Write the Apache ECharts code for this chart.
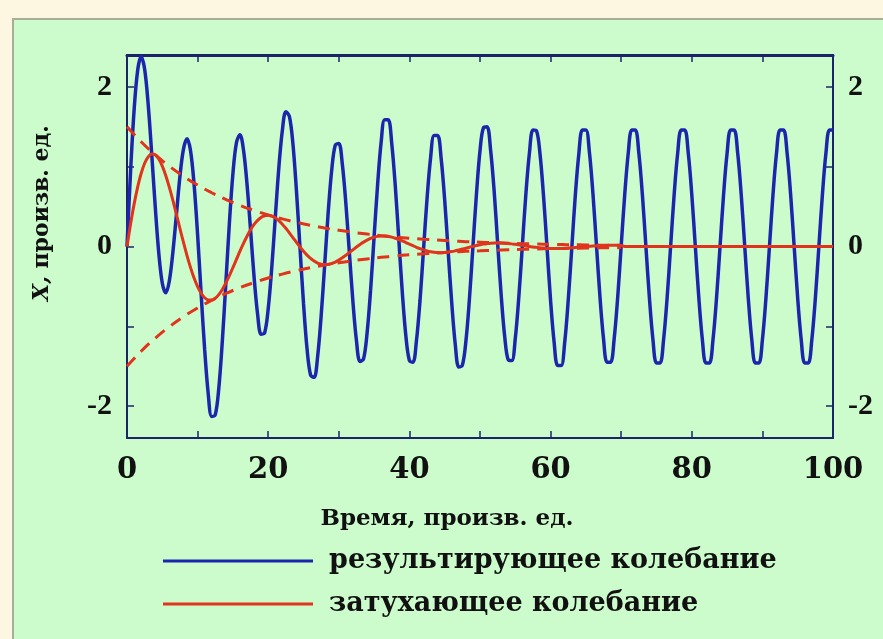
<!DOCTYPE html>
<html>
<head>
<meta charset="utf-8">
<script src="https://cdn.jsdelivr.net/npm/echarts@6.0.0/dist/echarts.min.js"></script>
<style>
  html, body { margin: 0; padding: 0; background: #fdf6e1; }
  #chart { width: 883px; height: 639px; }
</style>
</head>
<body>
<div id="chart"></div>
<script>
// ---------- DATA ----------
const time = [
  0,0.5,1,1.5,2,2.5,3,3.5,4,4.5,5,5.5,6,6.5,7,7.5,8,8.5,9,9.5,
  10,10.5,11,11.5,12,12.5,13,13.5,14,14.5,15,15.5,16,16.5,17,17.5,18,18.5,19,19.5,
  20,20.5,21,21.5,22,22.5,23,23.5,24,24.5,25,25.5,26,26.5,27,27.5,28,28.5,29,29.5,
  30,30.5,31,31.5,32,32.5,33,33.5,34,34.5,35,35.5,36,36.5,37,37.5,38,38.5,39,39.5,
  40,40.5,41,41.5,42,42.5,43,43.5,44,44.5,45,45.5,46,46.5,47,47.5,48,48.5,49,49.5,
  50,50.5,51,51.5,52,52.5,53,53.5,54,54.5,55,55.5,56,56.5,57,57.5,58,58.5,59,59.5,
  60,60.5,61,61.5,62,62.5,63,63.5,64,64.5,65,65.5,66,66.5,67,67.5,68,68.5,69,69.5,
  70,70.5,71,71.5,72,72.5,73,73.5,74,74.5,75,75.5,76,76.5,77,77.5,78,78.5,79,79.5,
  80,80.5,81,81.5,82,82.5,83,83.5,84,84.5,85,85.5,86,86.5,87,87.5,88,88.5,89,89.5,
  90,90.5,91,91.5,92,92.5,93,93.5,94,94.5,95,95.5,96,96.5,97,97.5,98,98.5,99,99.5,
  100
];

// resulting oscillation (blue)
const resulting = [
  0, 0.93, 1.70, 2.20, 2.38, 2.22, 1.78, 1.16, 0.50, -0.08, -0.46, -0.58, -0.43, -0.07,
  0.40, 0.88, 1.22, 1.35, 1.20, 0.78, 0.15, -0.59, -1.29, -1.84, -2.13, -2.11, -1.78, -1.19,
  -0.46, 0.29, 0.91, 1.30, 1.40, 1.21, 0.78, 0.21, -0.38, -0.85, -1.10, -1.08, -0.78, -0.27,
  0.36, 0.98, 1.45, 1.69, 1.63, 1.29, 0.70, -0.01, -0.71, -1.28, -1.61, -1.64, -1.38, -0.87,
  -0.23, 0.43, 0.96, 1.27, 1.29, 1.03, 0.54, -0.08, -0.69, -1.18, -1.44, -1.41, -1.09, -0.55,
  0.12, 0.78, 1.31, 1.59, 1.59, 1.29, 0.76, 0.09, -0.58, -1.12, -1.43, -1.45, -1.18, -0.68,
  -0.04, 0.60, 1.11, 1.39, 1.39, 1.10, 0.58, -0.07, -0.71, -1.23, -1.51, -1.49, -1.19, -0.66,
  0.00, 0.66, 1.20, 1.49, 1.50, 1.21, 0.70, 0.04, -0.61, -1.13, -1.42, -1.43, -1.15, -0.63,
  0.01, 0.66, 1.17, 1.46, 1.45, 1.16, 0.63, -0.02, -0.68, -1.20, -1.49, -1.49, -1.20, -0.67,
  -0.02, 0.64, 1.16, 1.46, 1.46, 1.18, 0.66, 0.01, -0.64, -1.16, -1.45, -1.45, -1.16, -0.64,
  0.01, 0.65, 1.17, 1.46, 1.46, 1.17, 0.65, 0.00, -0.65, -1.17, -1.46, -1.46, -1.17, -0.65,
  0.00, 0.65, 1.17, 1.46, 1.46, 1.17, 0.65, 0.00, -0.65, -1.17, -1.46, -1.46, -1.17, -0.65,
  0.00, 0.65, 1.17, 1.46, 1.46, 1.17, 0.65, 0.00, -0.65, -1.17, -1.46, -1.46, -1.17, -0.65,
  0.00, 0.65, 1.17, 1.46, 1.46, 1.17, 0.65, 0.00, -0.65, -1.17, -1.46, -1.46, -1.17, -0.65,
  0.00, 0.65, 1.17, 1.46, 1.46
];

// damped oscillation (red, solid)
const damped = [
  0, 0.278, 0.528, 0.742, 0.915, 1.043, 1.124, 1.159, 1.149, 1.096, 1.007, 0.887, 0.741, 0.578,
  0.403, 0.225, 0.051, -0.115, -0.265, -0.396, -0.504, -0.586, -0.642, -0.670, -0.672, -0.648, -0.603, -0.538,
  -0.457, -0.365, -0.265, -0.162, -0.059, 0.039, 0.129, 0.209, 0.276, 0.328, 0.365, 0.386, 0.391, 0.382,
  0.359, 0.325, 0.280, 0.228, 0.171, 0.112, 0.052, -0.006, -0.060, -0.108, -0.149, -0.182, -0.207, -0.221,
  -0.227, -0.224, -0.213, -0.195, -0.171, -0.142, -0.110, -0.075, -0.041, -0.006, 0.026, 0.055, 0.080, 0.101,
  0.116, 0.127, 0.132, 0.131, 0.126, 0.117, 0.104, 0.088, 0.070, 0.050, 0.030, 0.010, -0.010, -0.027,
  -0.042, -0.055, -0.065, -0.072, -0.076, -0.077, -0.075, -0.070, -0.063, -0.054, -0.044, -0.032, -0.021, -0.009,
  0.002, 0.013, 0.022, 0.030, 0.036, 0.041, 0.044, 0.045, 0.044, 0.042, 0.038, 0.033, 0.027, 0.021,
  0.014, 0.007, 0.001, -0.006, -0.011, -0.016, -0.020, -0.023, -0.025, -0.026, -0.026, -0.025, -0.023, -0.020,
  -0.017, -0.013, -0.009, -0.005, -0.002, 0.002, 0.006, 0.009, 0.011, 0.013, 0.014, 0.015, 0.015, 0.015,
  0.014, 0, 0, 0, 0, 0, 0, 0, 0, 0,
  0, 0, 0, 0, 0, 0, 0, 0, 0, 0,
  0, 0, 0, 0, 0, 0, 0, 0, 0, 0,
  0, 0, 0, 0, 0, 0, 0, 0, 0, 0,
  0, 0, 0, 0, 0, 0, 0, 0, 0, 0,
  0, 0, 0, 0, 0, 0, 0, 0, 0, 0,
  0
];

// decay envelope (red, dashed)
const envTime = [0,2,4,6,8,10,12,14,16,18,20,22,24,26,28,30,32,34,36,38,40,42,44,46,48,50,52,54,56,58,60,62,64,66,68,70];
const envUpper = [1.5, 1.313, 1.149, 1.006, 0.880, 0.770, 0.674, 0.590, 0.516, 0.452, 0.395, 0.346, 0.303, 0.265, 0.232, 0.203, 0.178, 0.156, 0.136, 0.119, 0.104, 0.091, 0.080, 0.070, 0.061, 0.054, 0.047, 0.041, 0.036, 0.031, 0.028, 0.024, 0.021, 0.018, 0.016, 0.014];
const envLower = [-1.5, -1.313, -1.149, -1.006, -0.880, -0.770, -0.674, -0.590, -0.516, -0.452, -0.395, -0.346, -0.303, -0.265, -0.232, -0.203, -0.178, -0.156, -0.136, -0.119, -0.104, -0.091, -0.080, -0.070, -0.061, -0.054, -0.047, -0.041, -0.036, -0.031, -0.028, -0.024, -0.021, -0.018, -0.016, -0.014];

// axes ticks & labels
const xTicks = [0,10,20,30,40,50,60,70,80,90,100];
const xLabels = [0,20,40,60,80,100];
const yTicks = [-2,-1,0,1,2];
const yLabels = [-2,0,2];

const seriesNames = ['результирующее колебание', 'затухающее колебание'];
const xTitle = 'Время, произв. ед.';
const yTitle = 'произв. ед.';

// ---------- CHART ----------
const FONT = '"Liberation Serif", "Times New Roman", serif';
const WIDE = '"DejaVu Serif", "Liberation Serif", serif';
const AXIS = '#1b2468';
const BLUE = '#1c26ac';
const RED = '#e0341c';
const pairs = (xs, ys) => xs.map((x, i) => [x, ys[i]]);

const axisLine = { show: true, onZero: false, lineStyle: { color: AXIS, width: 2 } };
const yLabelStyle = { color: '#111', fontFamily: FONT, fontWeight: 'bold', fontSize: 30 };
const xLabelStyle = { color: '#111', fontFamily: WIDE, fontWeight: 'bold', fontSize: 29 };

const chart = echarts.init(document.getElementById('chart'));
chart.setOption({
  animation: false,
  backgroundColor: '#fdf6e1',
  graphic: [
    { type: 'rect', z: -100, silent: true,
      shape: { x: 13, y: 19, width: 880, height: 630 },
      style: { fill: '#ccfccc', stroke: '#a8ae98', lineWidth: 2 } },
    { type: 'text', z: 10, x: 42, y: 213, rotation: Math.PI / 2,
      style: { text: '{i|X,} ' + yTitle, align: 'center', verticalAlign: 'middle',
        fill: '#111', font: 'bold 22px ' + WIDE,
        rich: { i: { fontStyle: 'italic', fontWeight: 'bold', fontSize: 22, fontFamily: WIDE, fill: '#111' } } } },
    { type: 'text', z: 10, x: 447, y: 519,
      style: { text: xTitle, align: 'center', verticalAlign: 'middle', fill: '#111',
        font: 'bold 23px ' + WIDE } }
  ],
  grid: { left: 127, right: 50, top: 55, bottom: 201, containLabel: false },
  xAxis: [
    { type: 'value', position: 'bottom', min: 0, max: 100, interval: 10,
      axisLine, splitLine: { show: false },
      axisTick: { inside: true, length: 7, customValues: xTicks, lineStyle: { color: AXIS, width: 1.5 } },
      axisLabel: Object.assign({ customValues: xLabels, margin: 18 }, xLabelStyle) },
    { type: 'value', position: 'top', min: 0, max: 100, interval: 10,
      axisLine: { show: true, onZero: false, lineStyle: { color: AXIS, width: 3 } }, splitLine: { show: false },
      axisTick: { inside: true, length: 7, customValues: xTicks, lineStyle: { color: AXIS, width: 1.5 } },
      axisLabel: { show: false } }
  ],
  yAxis: [
    { type: 'value', position: 'left', min: -2.4, max: 2.4,
      axisLine, splitLine: { show: false },
      axisTick: { inside: true, length: 7, customValues: yTicks, lineStyle: { color: AXIS, width: 1.5 } },
      axisLabel: Object.assign({ customValues: yLabels, margin: 15 }, yLabelStyle) },
    { type: 'value', position: 'right', min: -2.4, max: 2.4,
      axisLine, splitLine: { show: false },
      axisTick: { inside: true, length: 7, customValues: yTicks, lineStyle: { color: AXIS, width: 1.5 } },
      axisLabel: Object.assign({ customValues: yLabels, margin: 15 }, yLabelStyle) }
  ],
  legend: {
    data: seriesNames, orient: 'vertical', left: 163, top: 546, padding: 0,
    itemWidth: 150, itemHeight: 3, itemGap: 13, icon: 'rect',
    textStyle: { color: '#111', fontFamily: WIDE, fontWeight: 'bold', fontSize: 27, lineHeight: 30,
      padding: [0, 0, 0, 11] }
  },
  series: [
    { name: seriesNames[0], type: 'line', data: pairs(time, resulting), color: BLUE,
      showSymbol: false, smooth: 0.35, lineStyle: { color: BLUE, width: 3.5 }, z: 2 },
    { name: 'envUpper', type: 'line', data: pairs(envTime, envUpper), color: RED,
      showSymbol: false, smooth: true, lineStyle: { color: RED, width: 3, type: [12, 8] }, z: 3 },
    { name: 'envLower', type: 'line', data: pairs(envTime, envLower), color: RED,
      showSymbol: false, smooth: true, lineStyle: { color: RED, width: 3, type: [12, 8] }, z: 3 },
    { name: seriesNames[1], type: 'line', data: pairs(time, damped), color: RED,
      showSymbol: false, smooth: 0.35, lineStyle: { color: RED, width: 3 }, z: 4 }
  ]
});
</script>
</body>
</html>
